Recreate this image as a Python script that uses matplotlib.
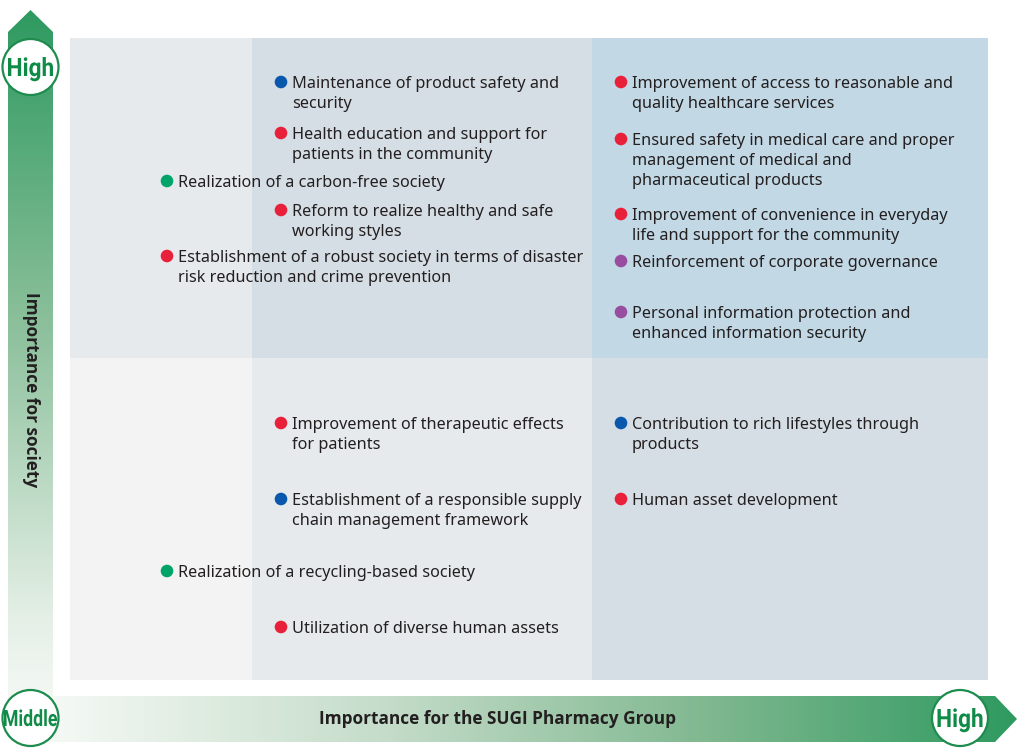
import numpy as np
import matplotlib
matplotlib.use("Agg")
import matplotlib.pyplot as plt
from matplotlib.patches import Rectangle, Polygon, Circle, PathPatch
from matplotlib.colors import LinearSegmentedColormap
from matplotlib.textpath import TextPath
from matplotlib.font_manager import FontProperties
from matplotlib.transforms import Affine2D

plt.rcParams["font.family"] = ["Noto Sans", "DejaVu Sans"]

TEXT = "#231f20"
GREEN = "#0f8a47"

# issue colour groups
dot_colors = {
    "red": "#e8203a",
    "blue": "#0a58ad",
    "green": "#00a468",
    "purple": "#994da0",
}

# materiality items: label lines, colour group, position in the matrix (pixel scale)
labels = [
    ["Maintenance of product safety and", "security"],
    ["Health education and support for", "patients in the community"],
    ["Realization of a carbon-free society"],
    ["Reform to realize healthy and safe", "working styles"],
    ["Establishment of a robust society in terms of disaster", "risk reduction and crime prevention"],
    ["Improvement of access to reasonable and", "quality healthcare services"],
    ["Ensured safety in medical care and proper", "management of medical and", "pharmaceutical products"],
    ["Improvement of convenience in everyday", "life and support for the community"],
    ["Reinforcement of corporate governance"],
    ["Personal information protection and", "enhanced information security"],
    ["Improvement of therapeutic effects", "for patients"],
    ["Establishment of a responsible supply", "chain management framework"],
    ["Realization of a recycling-based society"],
    ["Utilization of diverse human assets"],
    ["Contribution to rich lifestyles through", "products"],
    ["Human asset development"],
]
groups = ["blue", "red", "green", "red", "red",
          "red", "red", "red", "purple", "purple",
          "red", "blue", "green", "red",
          "blue", "red"]
x_pos = [281, 281, 167, 281, 167,
         621, 621, 621, 621, 621,
         281, 281, 167, 281,
         621, 621]
y_pos = [82, 133, 181, 210, 256,
         82, 139, 214, 261, 312,
         423, 499, 571, 627,
         423, 499]

# matrix cells
col_edges = [70, 252, 592, 988]
row_edges = [38, 358, 680]
cell_colors = [
    ["#e6eaec", "#d6dee5", "#c2d8e5"],
    ["#f3f3f3", "#e6eaec", "#d6dee5"],
]

W, H = 1019, 752
fig = plt.figure(figsize=(W / 100, H / 100), dpi=100)
ax = fig.add_axes([0, 0, 1, 1])
ax.set_xlim(0, W)
ax.set_ylim(H, 0)
ax.axis("off")

for r in range(2):
    for c in range(3):
        ax.add_patch(Rectangle((col_edges[c], row_edges[r]),
                               col_edges[c + 1] - col_edges[c],
                               row_edges[r + 1] - row_edges[r],
                               facecolor=cell_colors[r][c], edgecolor="none", zorder=1))

# vertical arrow (society)
v_cmap = LinearSegmentedColormap.from_list(
    "v", [(0, "#2e9a60"), (0.45, "#8abf9a"), (0.88, "#e4efe6"), (1, "#f4f8f4")])
v_poly = Polygon([(8, 700), (8, 32), (30.5, 10), (53, 32), (53, 700)],
                 closed=True, facecolor="none", edgecolor="none")
ax.add_patch(v_poly)
grad = np.linspace(0, 1, 256).reshape(-1, 1)
im = ax.imshow(grad, cmap=v_cmap, extent=(8, 53, 700, 10), origin="upper",
               aspect="auto", zorder=2)
im.set_clip_path(v_poly)

# horizontal arrow (company)
h_cmap = LinearSegmentedColormap.from_list(
    "h", [(0, "#f5f9f5"), (0.35, "#c4dcc9"), (0.68, "#80b890"), (1, "#2e9a60")])
h_poly = Polygon([(50, 696), (995, 696), (1017, 719), (995, 742), (50, 742)],
                 closed=True, facecolor="none", edgecolor="none")
ax.add_patch(h_poly)
grad_h = np.linspace(0, 1, 256).reshape(1, -1)
im2 = ax.imshow(grad_h, cmap=h_cmap, extent=(50, 1017, 742, 696), origin="upper",
                aspect="auto", zorder=2)
im2.set_clip_path(h_poly)
ax.set_xlim(0, W)
ax.set_ylim(H, 0)

# axis badges, condensed bold lettering drawn as paths
badge_font = FontProperties(family="Roboto", weight="bold")


def condensed_word(word, cx, cy, cap_px, width_px):
    em = cap_px / 0.711
    tp = TextPath((0, 0), word, size=em, prop=badge_font)
    ext = tp.get_extents()
    cap_mid = cap_px / 2
    sx = width_px / ext.width
    tr = (Affine2D().translate(-(ext.x0 + ext.width / 2), -cap_mid)
          .scale(sx, -1).translate(cx, cy))
    ax.add_patch(PathPatch(tr.transform_path(tp), facecolor=GREEN,
                           edgecolor="none", zorder=5))


for cx, cy, word, cap, wid in [(30.5, 67, "High", 18, 45),
                               (30.5, 718, "Middle", 16, 53),
                               (960, 718, "High", 18, 45)]:
    ax.add_patch(Circle((cx, cy), 28, facecolor="white", edgecolor="#1e8c4e",
                        linewidth=1.6, zorder=4))
    condensed_word(word, cx, cy, cap, wid)

ax.text(30.5, 390, "Importance for society", rotation=-90, ha="center", va="center",
        fontsize=12.4, fontweight="bold", color=TEXT, family="Open Sans", zorder=5)
ax.text(498, 719, "Importance for the SUGI Pharmacy Group", ha="center", va="center",
        fontsize=12.4, fontweight="bold", color=TEXT, family="Open Sans", zorder=5)

# items
line_h = 20
for lines, g, x, y in zip(labels, groups, x_pos, y_pos):
    ax.add_patch(Circle((x, y), 6.3, facecolor=dot_colors[g], edgecolor="none", zorder=3))
    for i, line in enumerate(lines):
        ax.text(x + 11, y + 6 + i * line_h, line, ha="left", va="baseline",
                fontsize=11.7, color=TEXT, zorder=3)

fig.savefig("out.png", dpi=100)
